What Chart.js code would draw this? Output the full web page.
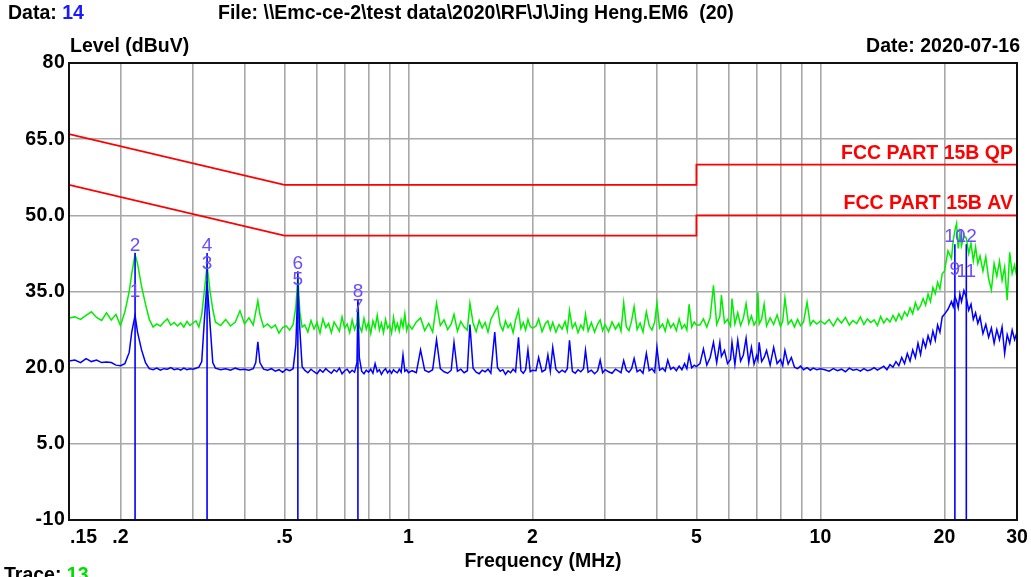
<!DOCTYPE html>
<html><head><meta charset="utf-8">
<script src="https://cdn.jsdelivr.net/npm/chart.js@4.4.1/dist/chart.umd.min.js"></script>
<style>html,body{margin:0;padding:0;background:#fff;overflow:hidden}canvas{display:block}</style>
</head><body>
<canvas id="c" width="1031" height="577"></canvas>
<script>
// ---- Data (frequency in MHz, level in dBuV) ----
const freq1=[0.150,0.155,0.160,0.165,0.170,0.175,0.180,0.185,0.190,0.195,0.200,0.205,0.210,0.213,0.217,0.220,0.225,0.230,0.235,0.240,0.245,0.250,0.255,0.260,0.265,0.270,0.275,0.280,0.285,0.290,0.295,0.300];
const green1=[29.8,30.0,29.5,30.3,31.0,29.9,29.3,30.8,29.4,30.5,28.3,31.0,35.0,38.5,42.3,40.5,36.0,32.5,29.5,28.0,28.6,28.2,29.0,29.6,28.4,28.9,28.2,28.8,28.0,29.1,28.3,28.8];
const blue1=[21.3,21.5,21.0,21.8,21.2,21.5,21.0,21.1,21.0,20.5,20.4,20.8,23.0,27.0,30.3,27.0,23.5,21.0,19.8,19.6,19.9,19.5,19.8,19.7,20.0,19.6,19.8,19.5,19.9,19.6,19.8,19.7];

const freq2=[0.305,0.310,0.315,0.320,0.3245,0.330,0.335,0.340,0.350,0.360,0.370,0.380,0.390,0.400,0.410,0.420,0.426,0.431,0.436,0.445,0.455,0.465,0.475,0.485,0.495,0.505,0.515,0.525,0.533,0.539,0.545,0.552];
const green2=[29.2,28.0,30.5,35.5,40.2,35.0,31.5,29.0,28.3,29.5,28.2,29.0,31.2,28.6,29.8,28.4,31.0,33.2,30.5,28.0,28.6,27.8,28.4,26.8,27.9,28.2,27.4,28.5,32.0,38.0,31.0,28.0];
const blue2=[19.9,20.1,21.2,30.0,37.0,28.5,21.0,19.9,19.6,19.8,19.5,19.9,19.6,19.7,19.5,19.8,21.0,25.1,21.0,19.7,19.5,19.8,19.3,19.6,19.1,19.7,19.4,19.8,24.5,36.2,27.5,20.2];

const freq3=[0.56,0.57,0.58,0.59,0.60,0.61,0.62,0.63,0.64,0.65,0.66,0.67,0.68,0.69,0.70,0.71,0.72,0.73,0.74,0.75,0.754,0.76,0.77,0.78,0.79,0.80,0.81,0.82,0.83,0.84,0.85,0.86,0.87,0.88,0.89,0.90,0.91,0.92,0.93,0.94,0.95,0.96,0.97,0.98,0.99,1.00];
const green3=[28.4,27.0,29.3,27.6,28.9,26.8,29.6,27.9,28.7,26.9,29.0,28.1,27.2,30.0,27.8,28.6,26.9,29.4,27.5,28.8,33.0,28.2,27.1,29.7,27.6,28.9,26.7,29.2,27.9,30.3,27.4,28.8,26.9,29.5,27.8,28.4,26.8,29.9,27.5,28.7,27.2,29.4,28.0,30.6,27.3,28.6];
const blue3=[19.5,19.0,19.7,19.2,18.8,19.6,19.1,19.8,19.3,18.9,19.6,19.2,19.9,18.8,19.4,19.7,19.0,19.5,19.1,21.0,32.8,22.0,19.3,18.8,19.5,19.1,19.7,18.9,20.8,19.2,19.6,18.7,19.4,19.8,19.0,19.5,18.9,19.6,19.2,19.0,19.7,19.1,22.5,19.3,19.6,19.0];

const freq4=[1.02,1.045,1.07,1.095,1.12,1.145,1.17,1.195,1.22,1.245,1.27,1.29,1.315,1.34,1.365,1.39,1.41,1.435,1.46,1.485,1.51,1.535,1.56,1.585,1.62,1.645,1.67,1.695,1.72,1.745,1.77,1.795,1.82,1.85,1.875,1.90,1.925,1.95,1.975,2.00];
const green4=[27.6,29.0,29.8,27.3,28.7,27.0,32.7,28.3,29.4,27.5,28.6,30.5,27.2,29.1,28.0,27.4,32.7,28.8,27.1,29.3,27.8,28.9,27.0,29.5,31.0,32.0,28.4,27.3,29.2,27.9,28.7,26.9,29.4,31.3,27.7,28.9,27.4,29.5,28.1,27.8];
const blue4=[19.4,19.0,23.5,19.5,19.1,19.6,25.5,19.8,19.2,18.9,19.5,25.0,19.3,19.7,19.0,19.4,28.5,19.9,19.1,18.8,19.5,19.2,19.7,18.9,27.0,20.0,19.3,19.6,18.7,19.4,19.0,19.7,19.2,26.0,19.4,18.9,19.6,23.5,19.2,19.5];

const freq5=[2.04,2.07,2.11,2.15,2.18,2.21,2.24,2.28,2.32,2.36,2.40,2.43,2.46,2.50,2.54,2.58,2.62,2.66,2.69,2.73,2.78,2.83,2.88,2.92,2.96,3.00,3.06,3.12,3.18,3.24,3.28,3.33,3.38,3.43,3.48,3.53,3.59,3.65,3.71,3.78,3.84,3.90,3.96,4.01,4.07,4.14,4.20,4.26,4.33,4.40,4.47,4.54,4.61,4.68,4.74,4.80,4.87,4.94,5.00];
const green5=[28.2,29.6,27.1,28.7,29.2,27.4,28.9,27.0,28.5,27.6,29.1,27.3,31.3,27.8,28.8,26.9,28.4,27.5,30.5,27.2,28.9,27.0,28.6,29.4,27.3,28.5,27.1,29.0,27.6,28.7,27.2,32.8,28.0,27.3,29.2,32.0,27.5,28.8,27.0,31.0,28.3,27.4,29.0,32.7,27.8,28.6,27.2,29.4,27.9,28.7,27.3,29.6,27.7,28.5,27.4,32.5,28.0,29.0,28.4];
const blue5=[19.4,22.0,19.2,19.6,22.5,19.3,24.0,19.7,19.0,19.5,19.1,19.8,25.4,19.3,18.9,19.6,19.2,19.8,23.4,19.1,19.5,18.8,19.4,21.5,19.0,19.6,19.2,18.9,19.7,19.3,19.0,21.4,19.5,19.1,19.8,21.8,19.2,19.6,18.9,22.8,19.4,19.8,19.1,24.0,19.5,19.9,19.3,21.5,19.7,20.1,19.4,20.3,19.6,20.8,19.8,22.4,20.0,20.5,20.2];

const freq6=[5.10,5.20,5.30,5.40,5.50,5.60,5.70,5.75,5.85,5.95,6.05,6.10,6.20,6.30,6.40,6.50,6.60,6.70,6.80,6.90,7.00,7.05,7.10,7.20,7.30,7.40,7.55,7.70,7.85,8.00,8.10,8.20,8.35,8.50,8.65,8.80,8.95,9.10,9.28,9.45,9.60,9.80,10.0];
const green6=[28.4,29.6,28.0,29.9,36.2,28.5,30.1,34.3,28.8,29.5,28.2,33.6,28.6,30.8,28.3,29.7,32.6,28.7,30.2,28.4,29.3,34.8,28.6,29.6,32.5,28.2,29.8,28.5,30.4,28.1,29.2,33.7,28.6,29.4,28.0,29.5,28.3,29.0,32.9,28.4,29.3,28.6,29.2];
const blue6=[20.8,23.7,20.5,22.0,25.0,21.0,25.0,22.2,23.4,20.8,21.6,25.0,20.6,25.4,21.3,22.5,25.8,21.0,24.0,20.7,22.4,21.5,25.0,21.2,22.0,23.4,20.5,24.0,20.8,21.6,20.4,23.4,20.7,22.0,20.1,19.8,20.3,19.6,20.0,19.5,19.9,19.6,19.8];

const freq7=[10.25,10.5,10.75,11.0,11.25,11.5,11.75,12.0,12.25,12.5,12.75,13.0,13.25,13.5,13.75,14.0,14.25,14.5,14.75,15.0,15.25,15.5,15.75,16.0,16.25,16.5,16.75,17.0,17.25,17.5,17.75,18.0,18.25,18.5,18.75,19.0,19.25,19.5,19.75,20.0];
const green7=[28.6,29.5,28.2,29.7,28.8,29.9,28.4,29.3,28.7,30.0,28.5,29.6,28.9,29.4,28.3,30.1,28.8,29.7,29.0,30.3,29.2,30.6,29.5,31.0,30.2,31.8,30.6,32.8,31.4,32.2,33.6,32.3,34.5,33.0,35.8,34.6,36.8,35.5,38.5,39.0];
const blue7=[19.6,19.3,19.8,19.4,19.7,19.2,19.9,19.5,19.7,19.3,19.8,19.4,19.6,20.0,19.5,19.9,20.3,19.6,20.6,20.1,21.2,20.4,22.0,20.8,22.8,21.3,23.5,22.0,24.8,22.6,25.5,24.0,26.3,24.8,27.2,25.4,28.4,27.0,30.0,30.5];

const freq8=[20.4,20.8,21.0,21.2,21.4,21.6,21.8,22.0,22.3,22.6,22.9,23.2,23.5,23.8,24.1,24.4,24.8,25.2,25.6,26.0,26.4,26.8,27.2,27.6,28.0,28.4,28.8,29.2,29.6,30.0];
const green8=[43.0,41.5,45.0,47.0,48.4,43.5,46.5,44.0,46.0,45.5,42.5,44.5,41.0,43.8,40.5,42.0,39.0,41.8,37.5,35.3,40.5,38.0,41.0,37.2,39.8,33.3,42.7,38.5,40.2,37.8];
const blue8=[31.5,33.0,32.0,34.0,33.2,31.8,34.5,33.0,35.2,33.8,31.3,32.5,29.5,30.8,28.7,30.0,26.7,28.5,26.0,27.8,24.8,27.5,25.5,28.0,22.8,26.5,24.8,27.4,25.5,27.0];

// Limit lines
const qpLimitFreq=[0.15,0.5,5,5,30];
const qpLimitLevel=[66,56,56,60,60];
const avLimitFreq=[0.15,0.5,5,5,30];
const avLimitLevel=[56,46,46,50,50];

// Markers
const markerNo=[1,2,3,4,5,6,7,8,9,10,11,12];
const markerFreq=[0.217,0.217,0.3245,0.3245,0.539,0.539,0.754,0.754,21.2,21.2,22.6,22.6];
const markerLevel=[33.5,42.6,39.1,42.6,35.9,39.0,30.6,33.5,37.8,44.3,37.4,44.3];

// Axes
const xGridVals=[0.2,0.3,0.4,0.5,0.6,0.7,0.8,0.9,1,2,3,4,5,6,7,8,9,10,20];
const xTickVals=[0.15,0.2,0.5,1,2,5,10,20,30];
const xTickLabels=['.15','.2','.5','1','2','5','10','20','30'];
const yTickVals=[80,65,50,35,20,5,-10];
const yTickLabels=['80','65.0','50.0','35.0','20.0','5.0','-10'];

// ---- build ----
const pts=(fs,vs)=>fs.map((f,i)=>({x:f,y:vs[i]}));
const greenTrace=[].concat(pts(freq1,green1),pts(freq2,green2),pts(freq3,green3),pts(freq4,green4),pts(freq5,green5),pts(freq6,green6),pts(freq7,green7),pts(freq8,green8));
const blueTrace=[].concat(pts(freq1,blue1),pts(freq2,blue2),pts(freq3,blue3),pts(freq4,blue4),pts(freq5,blue5),pts(freq6,blue6),pts(freq7,blue7),pts(freq8,blue8));
const markerLines=[];
markerFreq.forEach((f,i)=>{markerLines.push({x:f,y:-10},{x:f,y:markerLevel[i]},{x:f,y:null});});

const FONT='"Liberation Sans", Arial, sans-serif';
const textPlugin={
  id:'texts',
  afterDraw(chart){
    const {ctx,chartArea:a,scales:{x,y}}=chart;
    ctx.save();
    ctx.strokeStyle='#111';ctx.lineWidth=2;
    ctx.strokeRect(a.left,a.top,a.right-a.left,a.bottom-a.top);
    ctx.font='bold 19.5px '+FONT;ctx.fillStyle='#000';ctx.textBaseline='middle';
    ctx.textAlign='right';
    ctx.letterSpacing='0.6px';
    yTickVals.forEach((v,i)=>ctx.fillText(yTickLabels[i],a.left-3.5,y.getPixelForValue(v)));
    ctx.letterSpacing='0px';
    xTickVals.forEach((v,i)=>{
      const px=x.getPixelForValue(v);
      if(i===0){ctx.textAlign='left';ctx.fillText(xTickLabels[i],px+1,a.bottom+18);}
      else{ctx.textAlign='center';ctx.fillText(xTickLabels[i],px,a.bottom+18);}
    });
    ctx.textAlign='center';
    ctx.fillText('Frequency (MHz)',543,562);
    ctx.textAlign='left';
    ctx.fillText('Level (dBuV)',a.left+1,47);
    ctx.fillText('File: \\\\Emc-ce-2\\test data\\2020\\RF\\J\\Jing Heng.EM6  (20)',218,14);
    ctx.fillText('Data: ',8,14);
    let w=ctx.measureText('Data: ').width;ctx.fillStyle='#1a1aff';ctx.fillText('14',8+w,14);
    ctx.fillStyle='#000';ctx.fillText('Trace: ',4,576);
    w=ctx.measureText('Trace: ').width;ctx.fillStyle='#00dd00';ctx.fillText('13',4+w,576);
    ctx.fillStyle='#000';ctx.textAlign='right';
    ctx.fillText('Date: 2020-07-16',1020,47);
    // limit labels
    ctx.fillStyle='#ff0000';ctx.textBaseline='alphabetic';
    ctx.fillText('FCC PART 15B QP',a.right-4,y.getPixelForValue(qpLimitLevel[4])-6);
    ctx.fillText('FCC PART 15B AV',a.right-4,y.getPixelForValue(avLimitLevel[4])-6);
    // marker labels
    ctx.font='19px '+FONT;ctx.fillStyle='#6b4dff';ctx.textAlign='center';
    markerNo.forEach((n,i)=>ctx.fillText(String(n),x.getPixelForValue(markerFreq[i]),y.getPixelForValue(markerLevel[i])-2));
    ctx.restore();
  }
};

new Chart(document.getElementById('c'),{
  type:'scatter',
  data:{datasets:[
    {data:markerLines,showLine:true,borderColor:'#0000ff',borderWidth:1.6,pointRadius:0,spanGaps:false,order:0},
    {data:blueTrace,showLine:true,borderColor:'#0000ff',borderWidth:1.5,pointRadius:0,order:1},
    {data:greenTrace,showLine:true,borderColor:'#00ee00',borderWidth:1.5,pointRadius:0,order:2},
    {data:pts(qpLimitFreq,qpLimitLevel),showLine:true,borderColor:'#ff0000',borderWidth:1.8,pointRadius:0,order:3},
    {data:pts(avLimitFreq,avLimitLevel),showLine:true,borderColor:'#ff0000',borderWidth:1.8,pointRadius:0,order:3}
  ]},
  options:{
    responsive:false,animation:false,
    layout:{padding:{left:69,top:63,right:14,bottom:57}},
    plugins:{legend:{display:false},tooltip:{enabled:false}},
    scales:{
      x:{type:'logarithmic',min:0.15,max:30,
        afterBuildTicks:s=>{s.ticks=xGridVals.map(v=>({value:v}));},
        ticks:{display:false},border:{display:false},
        grid:{color:'#a8a8a8',lineWidth:1.6,drawTicks:false}},
      y:{type:'linear',min:-10,max:80,
        afterBuildTicks:s=>{s.ticks=yTickVals.map(v=>({value:v}));},
        ticks:{display:false},border:{display:false},
        grid:{color:'#a8a8a8',lineWidth:1.6,drawTicks:false}}
    }
  },
  plugins:[textPlugin]
});
</script>
</body></html>
